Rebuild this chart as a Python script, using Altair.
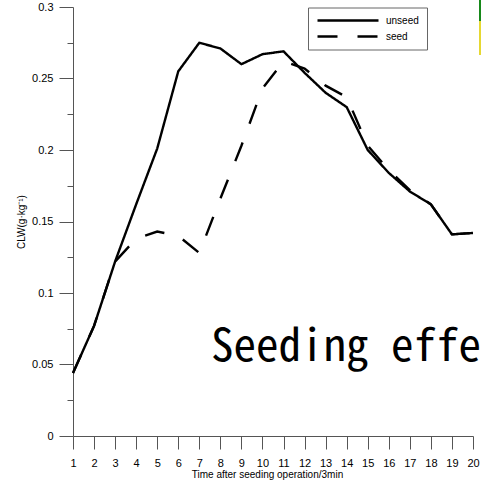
import altair as alt
import pandas as pd

# --- data ---
time_steps = [1, 2, 3, 4, 5, 6, 7, 8, 9, 10, 11, 12, 13, 14, 15, 16, 17, 18, 19, 20]
unseed = [0.044, 0.077, 0.122, 0.162, 0.201, 0.255, 0.275, 0.271, 0.260, 0.267,
          0.269, 0.254, 0.240, 0.230, 0.200, 0.184, 0.171, 0.162, 0.141, 0.142]
seed = [0.044, 0.077, 0.122, 0.138, 0.143, 0.140, 0.128, 0.166, 0.203, 0.243,
        0.262, 0.257, 0.245, 0.237, 0.203, 0.186, 0.172, 0.162, 0.141, 0.142]
series_names = ["unseed", "seed"]
y_tick_values = [0, 0.025, 0.05, 0.075, 0.1, 0.125, 0.15, 0.175, 0.2, 0.225, 0.25, 0.275, 0.3]
annotation_text = ["Seeding effect"]
annotation_x = [7.55]
annotation_y = [0.0525]

df = pd.DataFrame({
    "t": time_steps + time_steps,
    "clw": unseed + seed,
    "series": [series_names[0]] * len(unseed) + [series_names[1]] * len(seed),
})
ann = pd.DataFrame({"t": annotation_x, "clw": annotation_y, "label": annotation_text})

font = "Liberation Sans"

xscale = alt.Scale(domain=[1, 20], nice=False, zero=False)
yscale = alt.Scale(domain=[0, 0.3], nice=False)

major_test = "round(datum.value*1000) % 50 === 0"

x_axis = alt.Axis(
    values=time_steps, title="Time after seeding operation/3min", grid=False,
    ticks=True, tickSize=13, tickWidth=1, labelPadding=8, labelFontSize=11, labelFont=font,
    labelFlush=False, labelOverlap=False,
    titleFont=font, titleFontSize=10, titleFontWeight="normal",
    titleX=194, titleY=38, titleBaseline="middle",
    domainColor="#555", tickColor="#555", labelColor="black", titleColor="black",
)
y_axis = alt.Axis(
    values=y_tick_values, title="CLW(g·kg⁻¹)", grid=False,
    labelExpr=f"{major_test} ? format(datum.value, '~g') : ''",
    ticks=True, tickWidth=1,
    tickSize={"condition": {"test": major_test, "value": 14}, "value": 6},
    labelPadding=6, labelFontSize=11, labelFont=font, labelOverlap=False, labelFlush=False,
    titleFont=font, titleFontSize=10, titleFontWeight="normal",
    titleAngle=270, titleX=-52, titleY=214.5, titleAlign="center", titleBaseline="middle",
    domainColor="#555", tickColor="#555", labelColor="black", titleColor="black",
)

X = alt.X("t:Q", scale=xscale, axis=x_axis, title="Time after seeding operation/3min")
Y = alt.Y("clw:Q", scale=yscale, axis=y_axis, title="CLW(g·kg⁻¹)")

lines = alt.Chart(df).mark_line(color="black", strokeWidth=2.4, strokeJoin="miter").encode(
    x=X,
    y=Y,
    strokeDash=alt.StrokeDash(
        "series:N",
        scale=alt.Scale(domain=series_names, range=[[1, 0], [20, 20]]),
        legend=alt.Legend(
            title=None, orient="none", legendX=235, legendY=0.5,
            symbolType="stroke", symbolSize=3721, symbolStrokeWidth=2.5,
            symbolStrokeColor="black", labelFontSize=10, labelFont=font,
            labelOffset=6, strokeColor="#666", fillColor="white",
            padding=8, rowPadding=6, clipHeight=10,
        ),
    ),
)

text = alt.Chart(ann).mark_text(
    align="left", baseline="alphabetic", fontSize=45,
    font="Noto Sans Mono CJK JP, Noto Sans Mono CJK SC, DejaVu Sans Mono", color="black",
).encode(
    x=X,
    y=Y,
    text="label:N",
)

dummy = pd.DataFrame({"a": [0]})
green = alt.Chart(dummy).mark_rect(color="#17891a").encode(
    x=alt.value(406), x2=alt.value(408), y=alt.value(-7), y2=alt.value(14))
yellow = alt.Chart(dummy).mark_rect(color="#e6d832").encode(
    x=alt.value(406), x2=alt.value(408), y=alt.value(14), y2=alt.value(48))

chart = alt.layer(lines, text, green, yellow).properties(
    width=400, height=429,
    autosize=alt.AutoSizeParams(type="none"),
    padding={"left": 73, "top": 7, "right": 8, "bottom": 48},
).configure_view(stroke=None)

chart.save("out.html", embed_options={"renderer": "svg", "actions": False})
